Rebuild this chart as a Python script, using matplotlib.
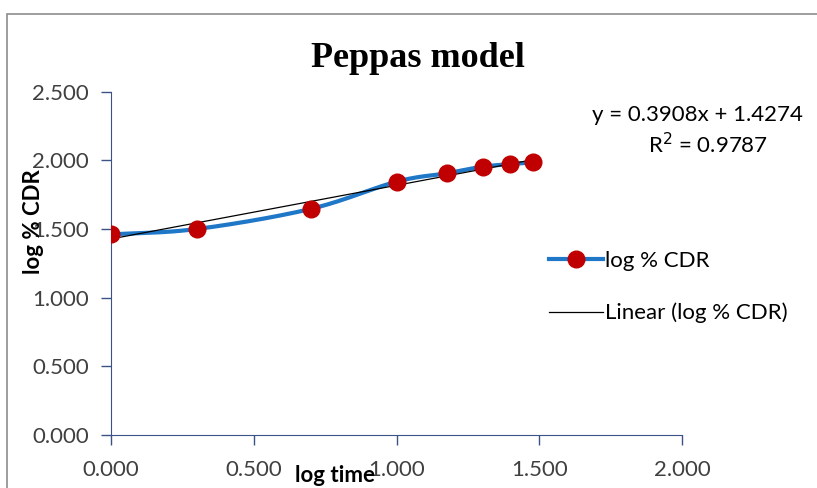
import numpy as np
import matplotlib.pyplot as plt
from matplotlib.patches import Rectangle

log_time = [0.000, 0.301, 0.699, 1.000, 1.176, 1.301, 1.398, 1.477]
log_cdr = [1.460, 1.500, 1.646, 1.845, 1.906, 1.954, 1.972, 1.986]
slope, intercept = 0.3908, 1.4274
r2 = 0.9787

xticks = [0.0, 0.5, 1.0, 1.5, 2.0]
yticks = [0.0, 0.5, 1.0, 1.5, 2.0, 2.5]

tick_font = 'Lato'
axis_col = '#3B5287'


def smooth(x, y, n=30):
    # catmull-rom, like excel's smoothed line
    x = np.asarray(x); y = np.asarray(y)
    px = np.concatenate([[2 * x[0] - x[1]], x, [2 * x[-1] - x[-2]]])
    py = np.concatenate([[2 * y[0] - y[1]], y, [2 * y[-1] - y[-2]]])
    xs, ys = [], []
    t = np.linspace(0, 1, n)
    for i in range(1, len(px) - 2):
        for p, out in ((px, xs), (py, ys)):
            p0, p1, p2, p3 = p[i - 1], p[i], p[i + 1], p[i + 2]
            out.extend(0.5 * ((2 * p1) + (-p0 + p2) * t
                              + (2 * p0 - 5 * p1 + 4 * p2 - p3) * t ** 2
                              + (-p0 + 3 * p1 - 3 * p2 + p3) * t ** 3))
    return np.array(xs), np.array(ys)


fig = plt.figure(figsize=(8.17, 4.88), dpi=100)
ax = fig.add_axes([0.136, 0.109, 0.699, 0.703])

fig.patches.append(Rectangle((0.0086, -0.2), 1.2, 1.171, transform=fig.transFigure,
                             fill=False, edgecolor='#8C8C8C', linewidth=1.2))

sx, sy = smooth(log_time, log_cdr)
ax.plot(sx, sy, color='#1F77C8', linewidth=3, zorder=2)
ax.plot(log_time, log_cdr, linestyle='none', marker='o', markersize=12,
        color='#C00000', zorder=4)
fx = np.array([log_time[0], log_time[-1]])
ax.plot(fx, slope * fx + intercept, color='black', linewidth=0.9, zorder=3)

# legend handles
h1, = ax.plot([], [], color='#1F77C8', linewidth=3, marker='o', markersize=12,
              markerfacecolor='#C00000', markeredgecolor='#C00000')
h2, = ax.plot([], [], color='black', linewidth=0.9)
fig.legend([h1, h2], ['log % CDR', 'Linear (log % CDR)'], loc='center left',
           bbox_to_anchor=(0.648, 0.412), frameon=False, handlelength=2.4,
           handletextpad=0.1, labelspacing=1.45,
           prop={'family': tick_font, 'size': 16})

ax.set_xlim(0, 2.0)
ax.set_ylim(0, 2.5)
ax.set_xticks(xticks)
ax.set_yticks(yticks)
ax.set_xticklabels([f'{v:.3f}' for v in xticks], family=tick_font, fontsize=16, color='#404040')
ax.set_yticklabels([f'{v:.3f}' for v in yticks], family=tick_font, fontsize=16, color='#404040')
ax.tick_params(direction='out', length=7, color=axis_col, width=1)
ax.tick_params(axis='x', pad=11)
ax.tick_params(axis='y', pad=9)
for s in ['top', 'right']:
    ax.spines[s].set_visible(False)
for s in ['left', 'bottom']:
    ax.spines[s].set_color(axis_col)

fig.text(0.512, 0.88, 'Peppas model', ha='center', va='center',
         family='Liberation Serif', fontweight='bold', fontsize=26)
fig.text(0.041, 0.545, 'log % CDR', rotation=90, ha='center', va='center',
         family=tick_font, fontweight='bold', fontsize=16)
fig.text(0.41, 0.025, 'log time', ha='center', va='center',
         family=tick_font, fontweight='bold', fontsize=16)

fig.text(0.983, 0.765, f'y = {slope}x + {intercept}', ha='right', va='center',
         family=tick_font, fontsize=16)
fig.text(0.94, 0.703, f'R$^2$ = {r2}', ha='right', va='center',
         family=tick_font, fontsize=16)

fig.savefig('out.png', dpi=100)
